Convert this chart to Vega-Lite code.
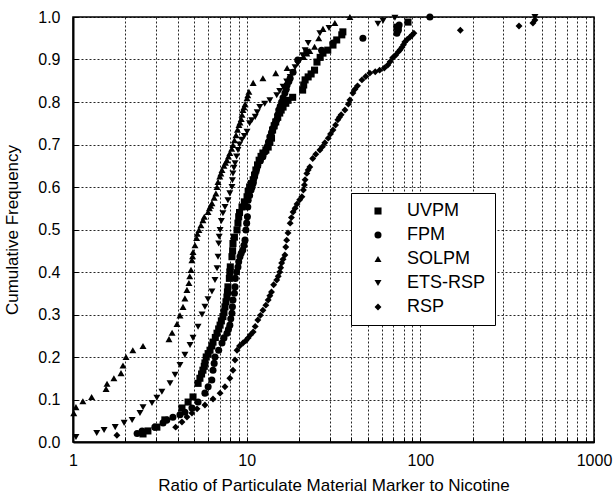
{
  "$schema": "https://vega.github.io/schema/vega-lite/v6.json",
  "width": 521,
  "height": 425,
  "autosize": {"type": "none"},
  "padding": {"left": 73, "top": 17, "right": 19, "bottom": 60},
  "background": "white",
  "config": {
    "font": "Liberation Sans",
    "view": {"stroke": "black", "strokeWidth": 1.5},
    "axis": {
      "grid": true,
      "gridDash": [2, 2],
      "gridColor": "black",
      "gridOpacity": 0.85,
      "gridWidth": 1,
      "tickColor": "black",
      "tickSize": -5,
      "tickWidth": 1,
      "domainColor": "black",
      "domainWidth": 2,
      "labelColor": "black",
      "labelFontSize": 16,
      "labelFont": "Liberation Sans",
      "titleFont": "Liberation Sans",
      "titleFontSize": 17,
      "titleFontWeight": "normal",
      "titleColor": "black"
    }
  },
  "data": {
    "values": [
      {"s":"UVPM","x":2.53,"y":0.019},{"s":"UVPM","x":2.7,"y":0.026},{"s":"UVPM","x":3.04,"y":0.035},{"s":"UVPM","x":3.38,"y":0.052},{"s":"UVPM","x":4.24,"y":0.08},{"s":"UVPM","x":4.6,"y":0.094},{"s":"UVPM","x":4.91,"y":0.106},{"s":"UVPM","x":5.25,"y":0.138},{"s":"UVPM","x":5.38,"y":0.15},{"s":"UVPM","x":5.5,"y":0.16},{"s":"UVPM","x":5.6,"y":0.169},{"s":"UVPM","x":5.7,"y":0.178},{"s":"UVPM","x":5.75,"y":0.186},{"s":"UVPM","x":5.85,"y":0.2},{"s":"UVPM","x":6.0,"y":0.208},{"s":"UVPM","x":6.15,"y":0.216},{"s":"UVPM","x":6.3,"y":0.226},{"s":"UVPM","x":6.4,"y":0.235},{"s":"UVPM","x":6.6,"y":0.246},{"s":"UVPM","x":6.75,"y":0.256},{"s":"UVPM","x":6.9,"y":0.266},{"s":"UVPM","x":7.03,"y":0.275},{"s":"UVPM","x":7.15,"y":0.285},{"s":"UVPM","x":7.3,"y":0.295},{"s":"UVPM","x":7.4,"y":0.306},{"s":"UVPM","x":7.5,"y":0.318},{"s":"UVPM","x":7.6,"y":0.33},{"s":"UVPM","x":7.7,"y":0.341},{"s":"UVPM","x":7.75,"y":0.353},{"s":"UVPM","x":7.8,"y":0.365},{"s":"UVPM","x":7.95,"y":0.385},{"s":"UVPM","x":8.0,"y":0.4},{"s":"UVPM","x":8.05,"y":0.412},{"s":"UVPM","x":8.23,"y":0.436},{"s":"UVPM","x":8.3,"y":0.45},{"s":"UVPM","x":8.34,"y":0.467},{"s":"UVPM","x":8.5,"y":0.482},{"s":"UVPM","x":8.8,"y":0.499},{"s":"UVPM","x":8.91,"y":0.515},{"s":"UVPM","x":9.0,"y":0.53},{"s":"UVPM","x":9.1,"y":0.54},{"s":"UVPM","x":9.4,"y":0.553},{"s":"UVPM","x":9.7,"y":0.565},{"s":"UVPM","x":10.05,"y":0.577},{"s":"UVPM","x":10.2,"y":0.59},{"s":"UVPM","x":10.4,"y":0.6},{"s":"UVPM","x":10.65,"y":0.608},{"s":"UVPM","x":10.9,"y":0.617},{"s":"UVPM","x":11.1,"y":0.628},{"s":"UVPM","x":11.3,"y":0.64},{"s":"UVPM","x":11.55,"y":0.652},{"s":"UVPM","x":11.8,"y":0.663},{"s":"UVPM","x":12.1,"y":0.672},{"s":"UVPM","x":12.4,"y":0.68},{"s":"UVPM","x":12.9,"y":0.687},{"s":"UVPM","x":13.3,"y":0.694},{"s":"UVPM","x":13.6,"y":0.705},{"s":"UVPM","x":13.9,"y":0.715},{"s":"UVPM","x":14.1,"y":0.734},{"s":"UVPM","x":14.4,"y":0.744},{"s":"UVPM","x":14.7,"y":0.753},{"s":"UVPM","x":15.1,"y":0.764},{"s":"UVPM","x":15.5,"y":0.774},{"s":"UVPM","x":15.8,"y":0.781},{"s":"UVPM","x":16.2,"y":0.788},{"s":"UVPM","x":16.8,"y":0.797},{"s":"UVPM","x":17.3,"y":0.804},{"s":"UVPM","x":18.4,"y":0.811},{"s":"UVPM","x":21,"y":0.828},{"s":"UVPM","x":21.3,"y":0.84},{"s":"UVPM","x":21.7,"y":0.852},{"s":"UVPM","x":22.6,"y":0.859},{"s":"UVPM","x":23.5,"y":0.866},{"s":"UVPM","x":24.6,"y":0.875},{"s":"UVPM","x":25.4,"y":0.894},{"s":"UVPM","x":26.5,"y":0.905},{"s":"UVPM","x":27.5,"y":0.915},{"s":"UVPM","x":29.3,"y":0.922},{"s":"UVPM","x":31.4,"y":0.934},{"s":"UVPM","x":33,"y":0.946},{"s":"UVPM","x":35.3,"y":0.958},{"s":"UVPM","x":35.8,"y":0.965},{"s":"UVPM","x":73.3,"y":0.976},{"s":"UVPM","x":84.9,"y":0.988},
      {"s":"FPM","x":2.34,"y":0.02},{"s":"FPM","x":2.5,"y":0.026},{"s":"FPM","x":2.96,"y":0.035},{"s":"FPM","x":3.3,"y":0.045},{"s":"FPM","x":3.47,"y":0.052},{"s":"FPM","x":3.76,"y":0.058},{"s":"FPM","x":4.13,"y":0.064},{"s":"FPM","x":4.41,"y":0.07},{"s":"FPM","x":4.84,"y":0.08},{"s":"FPM","x":5.25,"y":0.094},{"s":"FPM","x":5.75,"y":0.115},{"s":"FPM","x":6.0,"y":0.13},{"s":"FPM","x":6.3,"y":0.146},{"s":"FPM","x":6.4,"y":0.169},{"s":"FPM","x":6.5,"y":0.185},{"s":"FPM","x":6.57,"y":0.2},{"s":"FPM","x":6.9,"y":0.216},{"s":"FPM","x":7.21,"y":0.233},{"s":"FPM","x":7.4,"y":0.245},{"s":"FPM","x":7.7,"y":0.256},{"s":"FPM","x":7.85,"y":0.265},{"s":"FPM","x":8.0,"y":0.275},{"s":"FPM","x":8.1,"y":0.29},{"s":"FPM","x":8.23,"y":0.303},{"s":"FPM","x":8.28,"y":0.318},{"s":"FPM","x":8.34,"y":0.334},{"s":"FPM","x":8.5,"y":0.35},{"s":"FPM","x":8.57,"y":0.365},{"s":"FPM","x":8.6,"y":0.385},{"s":"FPM","x":8.75,"y":0.4},{"s":"FPM","x":8.91,"y":0.412},{"s":"FPM","x":9.0,"y":0.424},{"s":"FPM","x":9.15,"y":0.436},{"s":"FPM","x":9.3,"y":0.444},{"s":"FPM","x":9.5,"y":0.452},{"s":"FPM","x":9.65,"y":0.463},{"s":"FPM","x":9.78,"y":0.475},{"s":"FPM","x":9.9,"y":0.499},{"s":"FPM","x":10.0,"y":0.515},{"s":"FPM","x":10.1,"y":0.53},{"s":"FPM","x":10.15,"y":0.553},{"s":"FPM","x":10.2,"y":0.569},{"s":"FPM","x":10.4,"y":0.58},{"s":"FPM","x":10.6,"y":0.593},{"s":"FPM","x":10.75,"y":0.6},{"s":"FPM","x":10.9,"y":0.609},{"s":"FPM","x":11.0,"y":0.62},{"s":"FPM","x":11.2,"y":0.632},{"s":"FPM","x":11.4,"y":0.642},{"s":"FPM","x":11.6,"y":0.652},{"s":"FPM","x":12.0,"y":0.662},{"s":"FPM","x":12.4,"y":0.671},{"s":"FPM","x":12.8,"y":0.683},{"s":"FPM","x":13.1,"y":0.694},{"s":"FPM","x":13.35,"y":0.706},{"s":"FPM","x":13.6,"y":0.718},{"s":"FPM","x":13.9,"y":0.728},{"s":"FPM","x":14.2,"y":0.738},{"s":"FPM","x":14.5,"y":0.748},{"s":"FPM","x":14.9,"y":0.758},{"s":"FPM","x":15.1,"y":0.77},{"s":"FPM","x":15.3,"y":0.781},{"s":"FPM","x":15.6,"y":0.79},{"s":"FPM","x":15.9,"y":0.8},{"s":"FPM","x":16.2,"y":0.81},{"s":"FPM","x":16.6,"y":0.821},{"s":"FPM","x":16.9,"y":0.83},{"s":"FPM","x":17.1,"y":0.84},{"s":"FPM","x":17.5,"y":0.848},{"s":"FPM","x":17.8,"y":0.856},{"s":"FPM","x":18.5,"y":0.87},{"s":"FPM","x":19.7,"y":0.899},{"s":"FPM","x":22.2,"y":0.918},{"s":"FPM","x":27,"y":0.922},{"s":"FPM","x":31.4,"y":0.939},{"s":"FPM","x":46.7,"y":0.95},{"s":"FPM","x":73.3,"y":0.962},{"s":"FPM","x":74.7,"y":0.969},{"s":"FPM","x":74.7,"y":0.975},{"s":"FPM","x":75.5,"y":0.981},{"s":"FPM","x":113.5,"y":1.0},
      {"s":"SOLPM","x":1.01,"y":0.068},{"s":"SOLPM","x":1.04,"y":0.082},{"s":"SOLPM","x":1.14,"y":0.096},{"s":"SOLPM","x":1.28,"y":0.106},{"s":"SOLPM","x":1.55,"y":0.125},{"s":"SOLPM","x":1.57,"y":0.137},{"s":"SOLPM","x":1.72,"y":0.15},{"s":"SOLPM","x":1.89,"y":0.162},{"s":"SOLPM","x":1.94,"y":0.18},{"s":"SOLPM","x":2.02,"y":0.2},{"s":"SOLPM","x":2.21,"y":0.216},{"s":"SOLPM","x":2.53,"y":0.226},{"s":"SOLPM","x":3.57,"y":0.242},{"s":"SOLPM","x":3.72,"y":0.257},{"s":"SOLPM","x":3.97,"y":0.278},{"s":"SOLPM","x":4.13,"y":0.298},{"s":"SOLPM","x":4.3,"y":0.318},{"s":"SOLPM","x":4.41,"y":0.338},{"s":"SOLPM","x":4.53,"y":0.358},{"s":"SOLPM","x":4.65,"y":0.374},{"s":"SOLPM","x":4.7,"y":0.39},{"s":"SOLPM","x":4.78,"y":0.405},{"s":"SOLPM","x":4.84,"y":0.428},{"s":"SOLPM","x":4.88,"y":0.437},{"s":"SOLPM","x":4.91,"y":0.447},{"s":"SOLPM","x":5.04,"y":0.463},{"s":"SOLPM","x":5.15,"y":0.48},{"s":"SOLPM","x":5.2,"y":0.49},{"s":"SOLPM","x":5.31,"y":0.499},{"s":"SOLPM","x":5.45,"y":0.51},{"s":"SOLPM","x":5.6,"y":0.522},{"s":"SOLPM","x":5.7,"y":0.53},{"s":"SOLPM","x":5.99,"y":0.541},{"s":"SOLPM","x":6.1,"y":0.55},{"s":"SOLPM","x":6.2,"y":0.556},{"s":"SOLPM","x":6.31,"y":0.562},{"s":"SOLPM","x":6.5,"y":0.575},{"s":"SOLPM","x":6.65,"y":0.585},{"s":"SOLPM","x":6.75,"y":0.6},{"s":"SOLPM","x":6.84,"y":0.612},{"s":"SOLPM","x":7.0,"y":0.625},{"s":"SOLPM","x":7.1,"y":0.632},{"s":"SOLPM","x":7.21,"y":0.64},{"s":"SOLPM","x":7.4,"y":0.65},{"s":"SOLPM","x":7.55,"y":0.657},{"s":"SOLPM","x":7.7,"y":0.663},{"s":"SOLPM","x":7.85,"y":0.672},{"s":"SOLPM","x":8.0,"y":0.68},{"s":"SOLPM","x":8.2,"y":0.69},{"s":"SOLPM","x":8.34,"y":0.699},{"s":"SOLPM","x":8.5,"y":0.71},{"s":"SOLPM","x":8.68,"y":0.722},{"s":"SOLPM","x":8.85,"y":0.735},{"s":"SOLPM","x":9.03,"y":0.746},{"s":"SOLPM","x":9.15,"y":0.752},{"s":"SOLPM","x":9.3,"y":0.76},{"s":"SOLPM","x":9.4,"y":0.77},{"s":"SOLPM","x":9.52,"y":0.781},{"s":"SOLPM","x":9.65,"y":0.788},{"s":"SOLPM","x":9.8,"y":0.795},{"s":"SOLPM","x":10.05,"y":0.809},{"s":"SOLPM","x":10.15,"y":0.816},{"s":"SOLPM","x":10.3,"y":0.824},{"s":"SOLPM","x":10.9,"y":0.845},{"s":"SOLPM","x":12.4,"y":0.856},{"s":"SOLPM","x":14.7,"y":0.868},{"s":"SOLPM","x":17.1,"y":0.88},{"s":"SOLPM","x":21.3,"y":0.906},{"s":"SOLPM","x":22.2,"y":0.914},{"s":"SOLPM","x":23.1,"y":0.92},{"s":"SOLPM","x":24.6,"y":0.93},{"s":"SOLPM","x":26,"y":0.95},{"s":"SOLPM","x":27.5,"y":0.972},{"s":"SOLPM","x":32.2,"y":0.986},{"s":"SOLPM","x":39.3,"y":1.0},
      {"s":"ETS-RSP","x":1.04,"y":0.012},{"s":"ETS-RSP","x":1.37,"y":0.021},{"s":"ETS-RSP","x":1.51,"y":0.028},{"s":"ETS-RSP","x":1.75,"y":0.035},{"s":"ETS-RSP","x":1.97,"y":0.045},{"s":"ETS-RSP","x":2.19,"y":0.052},{"s":"ETS-RSP","x":2.43,"y":0.068},{"s":"ETS-RSP","x":2.53,"y":0.082},{"s":"ETS-RSP","x":2.85,"y":0.092},{"s":"ETS-RSP","x":3.04,"y":0.104},{"s":"ETS-RSP","x":3.25,"y":0.118},{"s":"ETS-RSP","x":3.62,"y":0.138},{"s":"ETS-RSP","x":3.87,"y":0.158},{"s":"ETS-RSP","x":4.13,"y":0.181},{"s":"ETS-RSP","x":4.41,"y":0.205},{"s":"ETS-RSP","x":4.72,"y":0.228},{"s":"ETS-RSP","x":4.91,"y":0.245},{"s":"ETS-RSP","x":5.25,"y":0.271},{"s":"ETS-RSP","x":5.53,"y":0.3},{"s":"ETS-RSP","x":5.75,"y":0.318},{"s":"ETS-RSP","x":5.99,"y":0.336},{"s":"ETS-RSP","x":6.31,"y":0.354},{"s":"ETS-RSP","x":6.57,"y":0.381},{"s":"ETS-RSP","x":6.75,"y":0.409},{"s":"ETS-RSP","x":6.84,"y":0.436},{"s":"ETS-RSP","x":6.9,"y":0.467},{"s":"ETS-RSP","x":6.95,"y":0.483},{"s":"ETS-RSP","x":7.03,"y":0.499},{"s":"ETS-RSP","x":7.15,"y":0.52},{"s":"ETS-RSP","x":7.3,"y":0.538},{"s":"ETS-RSP","x":7.5,"y":0.553},{"s":"ETS-RSP","x":7.8,"y":0.569},{"s":"ETS-RSP","x":8.0,"y":0.585},{"s":"ETS-RSP","x":8.23,"y":0.6},{"s":"ETS-RSP","x":8.28,"y":0.616},{"s":"ETS-RSP","x":8.34,"y":0.632},{"s":"ETS-RSP","x":8.45,"y":0.645},{"s":"ETS-RSP","x":8.57,"y":0.656},{"s":"ETS-RSP","x":8.75,"y":0.672},{"s":"ETS-RSP","x":8.91,"y":0.687},{"s":"ETS-RSP","x":9.1,"y":0.7},{"s":"ETS-RSP","x":9.4,"y":0.711},{"s":"ETS-RSP","x":9.7,"y":0.72},{"s":"ETS-RSP","x":10.05,"y":0.73},{"s":"ETS-RSP","x":10.4,"y":0.75},{"s":"ETS-RSP","x":10.7,"y":0.757},{"s":"ETS-RSP","x":11.2,"y":0.765},{"s":"ETS-RSP","x":11.5,"y":0.776},{"s":"ETS-RSP","x":11.9,"y":0.788},{"s":"ETS-RSP","x":12.7,"y":0.796},{"s":"ETS-RSP","x":13.6,"y":0.804},{"s":"ETS-RSP","x":14.9,"y":0.816},{"s":"ETS-RSP","x":15.5,"y":0.826},{"s":"ETS-RSP","x":16.2,"y":0.836},{"s":"ETS-RSP","x":17,"y":0.848},{"s":"ETS-RSP","x":17.8,"y":0.859},{"s":"ETS-RSP","x":18.4,"y":0.87},{"s":"ETS-RSP","x":19,"y":0.882},{"s":"ETS-RSP","x":19.7,"y":0.89},{"s":"ETS-RSP","x":20.3,"y":0.899},{"s":"ETS-RSP","x":21,"y":0.91},{"s":"ETS-RSP","x":21.7,"y":0.922},{"s":"ETS-RSP","x":22.6,"y":0.939},{"s":"ETS-RSP","x":26.4,"y":0.962},{"s":"ETS-RSP","x":29.8,"y":0.974},{"s":"ETS-RSP","x":57,"y":0.984},{"s":"ETS-RSP","x":61,"y":0.991},{"s":"ETS-RSP","x":71.4,"y":0.998},{"s":"ETS-RSP","x":457,"y":1.0},
      {"s":"RSP","x":1.79,"y":0.016},{"s":"RSP","x":3.9,"y":0.035},{"s":"RSP","x":4.24,"y":0.047},{"s":"RSP","x":4.53,"y":0.059},{"s":"RSP","x":4.84,"y":0.068},{"s":"RSP","x":5.18,"y":0.078},{"s":"RSP","x":5.75,"y":0.087},{"s":"RSP","x":6.4,"y":0.101},{"s":"RSP","x":7.03,"y":0.115},{"s":"RSP","x":7.5,"y":0.13},{"s":"RSP","x":8.0,"y":0.15},{"s":"RSP","x":8.34,"y":0.169},{"s":"RSP","x":8.57,"y":0.193},{"s":"RSP","x":8.8,"y":0.216},{"s":"RSP","x":9.1,"y":0.226},{"s":"RSP","x":9.52,"y":0.233},{"s":"RSP","x":9.9,"y":0.239},{"s":"RSP","x":10.2,"y":0.245},{"s":"RSP","x":10.5,"y":0.252},{"s":"RSP","x":10.9,"y":0.259},{"s":"RSP","x":11.2,"y":0.272},{"s":"RSP","x":11.6,"y":0.287},{"s":"RSP","x":12.0,"y":0.298},{"s":"RSP","x":12.4,"y":0.31},{"s":"RSP","x":12.9,"y":0.322},{"s":"RSP","x":13.3,"y":0.334},{"s":"RSP","x":13.6,"y":0.344},{"s":"RSP","x":13.9,"y":0.353},{"s":"RSP","x":14.3,"y":0.37},{"s":"RSP","x":14.9,"y":0.381},{"s":"RSP","x":15.2,"y":0.39},{"s":"RSP","x":15.5,"y":0.4},{"s":"RSP","x":15.7,"y":0.41},{"s":"RSP","x":15.9,"y":0.421},{"s":"RSP","x":16.2,"y":0.43},{"s":"RSP","x":16.6,"y":0.44},{"s":"RSP","x":16.8,"y":0.459},{"s":"RSP","x":17.0,"y":0.475},{"s":"RSP","x":17.3,"y":0.492},{"s":"RSP","x":17.8,"y":0.515},{"s":"RSP","x":18.1,"y":0.528},{"s":"RSP","x":18.5,"y":0.541},{"s":"RSP","x":19,"y":0.55},{"s":"RSP","x":19.5,"y":0.56},{"s":"RSP","x":20.2,"y":0.57},{"s":"RSP","x":20.8,"y":0.577},{"s":"RSP","x":21.2,"y":0.593},{"s":"RSP","x":21.5,"y":0.605},{"s":"RSP","x":21.7,"y":0.617},{"s":"RSP","x":22.2,"y":0.632},{"s":"RSP","x":22.6,"y":0.64},{"s":"RSP","x":23.1,"y":0.647},{"s":"RSP","x":24,"y":0.667},{"s":"RSP","x":25,"y":0.677},{"s":"RSP","x":26.4,"y":0.687},{"s":"RSP","x":27.3,"y":0.695},{"s":"RSP","x":28.2,"y":0.704},{"s":"RSP","x":29.5,"y":0.715},{"s":"RSP","x":30.4,"y":0.725},{"s":"RSP","x":31.4,"y":0.734},{"s":"RSP","x":32.5,"y":0.746},{"s":"RSP","x":33.5,"y":0.758},{"s":"RSP","x":34.2,"y":0.764},{"s":"RSP","x":35,"y":0.77},{"s":"RSP","x":36.8,"y":0.781},{"s":"RSP","x":38.5,"y":0.795},{"s":"RSP","x":39.3,"y":0.805},{"s":"RSP","x":40.9,"y":0.821},{"s":"RSP","x":42,"y":0.83},{"s":"RSP","x":43.5,"y":0.838},{"s":"RSP","x":46.1,"y":0.852},{"s":"RSP","x":48.5,"y":0.86},{"s":"RSP","x":51.2,"y":0.868},{"s":"RSP","x":55,"y":0.871},{"s":"RSP","x":58.3,"y":0.875},{"s":"RSP","x":62,"y":0.88},{"s":"RSP","x":65,"y":0.887},{"s":"RSP","x":67,"y":0.895},{"s":"RSP","x":69.3,"y":0.904},{"s":"RSP","x":72,"y":0.91},{"s":"RSP","x":74.7,"y":0.918},{"s":"RSP","x":76.5,"y":0.923},{"s":"RSP","x":78.4,"y":0.929},{"s":"RSP","x":80,"y":0.935},{"s":"RSP","x":81.4,"y":0.941},{"s":"RSP","x":84,"y":0.947},{"s":"RSP","x":87.3,"y":0.953},{"s":"RSP","x":89.5,"y":0.957},{"s":"RSP","x":91.8,"y":0.962},{"s":"RSP","x":170,"y":0.969},{"s":"RSP","x":370,"y":0.979},{"s":"RSP","x":445,"y":0.986},{"s":"RSP","x":457,"y":0.993}
    ]
  },
  "mark": {"type": "point", "filled": true, "color": "black", "opacity": 1},
  "encoding": {
    "x": {
      "field": "x",
      "type": "quantitative",
      "scale": {"type": "log", "domain": [1, 1000], "nice": false},
      "axis": {
        "title": "Ratio of Particulate Material Marker to Nicotine",
        "values": [1,2,3,4,5,6,7,8,9,10,20,30,40,50,60,70,80,90,100,200,300,400,500,600,700,800,900,1000],
        "labelExpr": "(datum.value == 1 || datum.value == 10 || datum.value == 100 || datum.value == 1000) ? format(datum.value, 'd') : ''",
        "labelOverlap": false,
        "labelFlush": false,
        "labelPadding": 15,
        "titlePadding": 9
      }
    },
    "y": {
      "field": "y",
      "type": "quantitative",
      "scale": {"domain": [0, 1], "nice": false},
      "axis": {
        "title": "Cumulative Frequency",
        "values": [0, 0.1, 0.2, 0.3, 0.4, 0.5, 0.6, 0.7, 0.8, 0.9, 1.0],
        "format": ".1f",
        "labelPadding": 18,
        "titlePadding": 16
      }
    },
    "size": {
      "field": "s",
      "type": "nominal",
      "scale": {
        "domain": ["UVPM", "FPM", "SOLPM", "ETS-RSP", "RSP"],
        "range": [50, 48, 78, 78, 62]
      }
    },
    "shape": {
      "field": "s",
      "type": "nominal",
      "scale": {
        "domain": ["UVPM", "FPM", "SOLPM", "ETS-RSP", "RSP"],
        "range": ["square", "circle", "triangle-up", "triangle-down", "diamond"]
      },
      "legend": {
        "orient": "none",
        "legendX": 278,
        "legendY": 176,
        "title": null,
        "strokeColor": "black",
        "fillColor": "white",
        "padding": 9,
        "symbolOffset": 9,
        "labelFontSize": 18,
        "labelFont": "Liberation Sans",
        "labelColor": "black",
        "symbolFillColor": "black",
        "symbolStrokeColor": "black",
        "rowPadding": 6,
        "labelOffset": 20
      }
    }
  }
}
